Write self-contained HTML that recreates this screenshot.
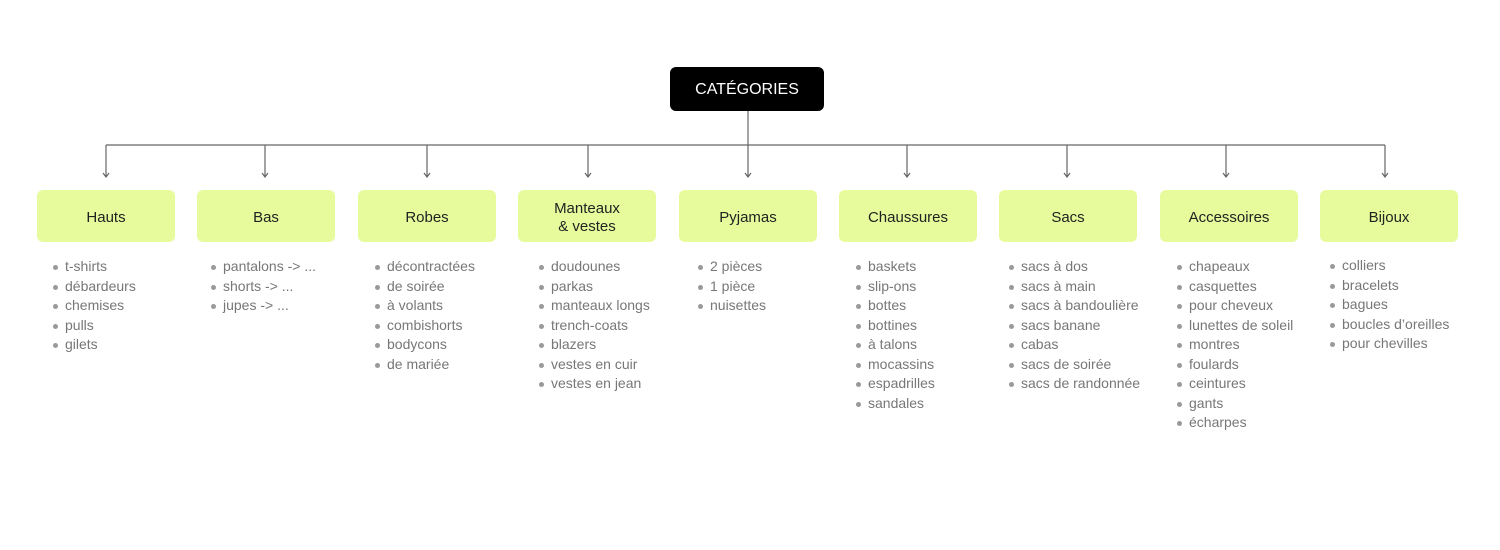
<!DOCTYPE html>
<html><head><meta charset="utf-8"><style>
body{margin:0;width:1500px;height:550px;background:#fff;position:relative;font-family:"Liberation Sans",sans-serif;overflow:hidden}
.top{position:absolute;left:670px;top:67px;width:154px;height:44px;background:#000;border-radius:6px;color:#fff;font-size:16px;display:flex;align-items:center;justify-content:center;padding-top:2px;box-sizing:border-box}
.box{position:absolute;top:190px;width:138px;height:52px;background:#e7fb9c;border-radius:6px;color:#222;font-size:15px;display:flex;align-items:center;justify-content:center;text-align:center;line-height:18px;padding-top:3px;box-sizing:border-box}
ul{position:absolute;top:257px;margin:0;padding:0 0 0 14px;list-style:none;color:#777;font-size:14px;line-height:19.5px}
li{position:relative;white-space:nowrap}
li:before{content:"";position:absolute;left:-12px;top:8px;width:5px;height:5px;border-radius:50%;background:#999}
</style></head><body>
<svg width="1500" height="550" style="position:absolute;left:0;top:0">
<g stroke="#666" stroke-width="1.2" fill="none">
<line x1="748" y1="111" x2="748" y2="145"/>
<line x1="106" y1="145" x2="1385" y2="145"/>
<path d="M106 145V177M103 173L106 177L109 173"/>
<path d="M265 145V177M262 173L265 177L268 173"/>
<path d="M427 145V177M424 173L427 177L430 173"/>
<path d="M588 145V177M585 173L588 177L591 173"/>
<path d="M748 145V177M745 173L748 177L751 173"/>
<path d="M907 145V177M904 173L907 177L910 173"/>
<path d="M1067 145V177M1064 173L1067 177L1070 173"/>
<path d="M1226 145V177M1223 173L1226 177L1229 173"/>
<path d="M1385 145V177M1382 173L1385 177L1388 173"/>
</g></svg>
<div class="top">CATÉGORIES</div>
<div class="box" style="left:37px">Hauts</div>
<div class="box" style="left:197px">Bas</div>
<div class="box" style="left:358px">Robes</div>
<div class="box" style="left:518px">Manteaux<br>&amp; vestes</div>
<div class="box" style="left:679px">Pyjamas</div>
<div class="box" style="left:839px">Chaussures</div>
<div class="box" style="left:999px">Sacs</div>
<div class="box" style="left:1160px">Accessoires</div>
<div class="box" style="left:1320px">Bijoux</div>
<ul style="left:51px"><li>t-shirts</li><li>débardeurs</li><li>chemises</li><li>pulls</li><li>gilets</li></ul>
<ul style="left:209px"><li>pantalons -&gt; ...</li><li>shorts -&gt; ...</li><li>jupes -&gt; ...</li></ul>
<ul style="left:373px"><li>décontractées</li><li>de soirée</li><li>à volants</li><li>combishorts</li><li>bodycons</li><li>de mariée</li></ul>
<ul style="left:537px"><li>doudounes</li><li>parkas</li><li>manteaux longs</li><li>trench-coats</li><li>blazers</li><li>vestes en cuir</li><li>vestes en jean</li></ul>
<ul style="left:696px"><li>2 pièces</li><li>1 pièce</li><li>nuisettes</li></ul>
<ul style="left:854px"><li>baskets</li><li>slip-ons</li><li>bottes</li><li>bottines</li><li>à talons</li><li>mocassins</li><li>espadrilles</li><li>sandales</li></ul>
<ul style="left:1007px"><li>sacs à dos</li><li>sacs à main</li><li>sacs à bandoulière</li><li>sacs banane</li><li>cabas</li><li>sacs de soirée</li><li>sacs de randonnée</li></ul>
<ul style="left:1175px"><li>chapeaux</li><li>casquettes</li><li>pour cheveux</li><li>lunettes de soleil</li><li>montres</li><li>foulards</li><li>ceintures</li><li>gants</li><li>écharpes</li></ul>
<ul style="left:1328px;top:256px"><li>colliers</li><li>bracelets</li><li>bagues</li><li>boucles d’oreilles</li><li>pour chevilles</li></ul>
</body></html>
